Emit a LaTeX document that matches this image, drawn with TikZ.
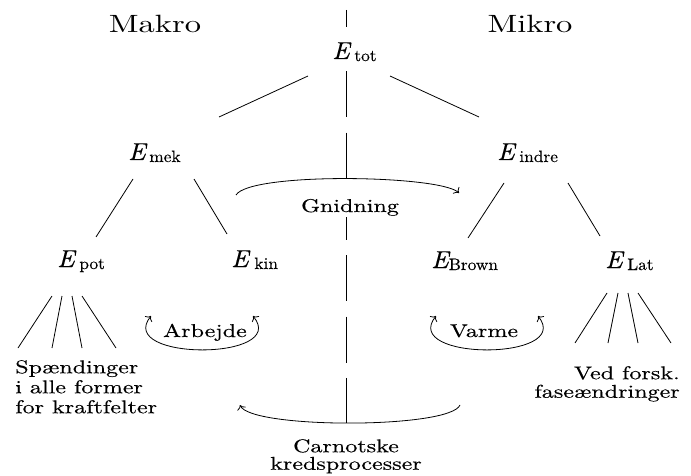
\documentclass[tikz,border=0pt]{standalone}
\usepackage{fontspec}
\setmainfont{lmroman10-regular.otf}[FakeBold=0.3]
\newfontface\Eit{lmroman10-italic.otf}[FakeBold=0.4]
\newfontface\hdrfont{lmroman10-regular.otf}
\usetikzlibrary{arrows.meta,calc}
\newcommand{\Eof}[2][4.5]{{\Eit E}\kern#1pt\raisebox{-2pt}{\fontsize{16.5}{18}\selectfont #2}}
\begin{document}
\begin{tikzpicture}[x=1pt,y=-1pt,
  wtxt/.style={inner sep=0pt, xscale=1.3, transform shape, font=\fontsize{18.5}{20}\selectfont},
  enode/.style={inner sep=0pt, xscale=1.05, transform shape, font=\fontsize{24.5}{28}\selectfont, anchor=base west},
  hdr/.style={inner sep=0pt, xscale=1.3, transform shape, font=\hdrfont\fontsize{25}{30}\selectfont, anchor=base},
  ln/.style={line width=0.8pt},
  arr/.style={ln, -{To[scale=1.3]}},
  dbl/.style={ln, {To[scale=1.3]}-{To[scale=1.3]}}
]
\useasboundingbox (0,0) rectangle (691,476);
\coordinate (dtop) at (346,10);
\coordinate (dbot) at (346,423);
\draw[ln, dash pattern=on 46pt off 15.3pt] (dtop) -- (dbot);

\node[hdr] (makro) at (155,33) {Makro};
\node[hdr] (mikro) at (530,33) {Mikro};

\node[enode, fill=white, text height=32pt, text depth=8pt, inner xsep=1pt] (tot) at (331,59) {\Eof{tot}};
\node[enode] (mek) at (128,160) {\Eof[3.5]{mek}};
\node[enode] (indre) at (497,160) {\Eof{indre}};
\node[enode] (pot) at (57,267) {\Eof{pot}};
\node[enode] (kin) at (231,267) {\Eof[5.5]{kin}};
\node[enode] (brown) at (431,268) {\Eof[0]{Brown}};
\node[enode] (lat) at (605,268) {\Eof{Lat}};

\node[wtxt, anchor=north west, align=left, font=\fontsize{18.5}{20}\selectfont] (spaend) at (15,360) {Spændinger\\i alle former\\for kraftfelter};
\node[wtxt, anchor=north east, align=right, font=\fontsize{18.5}{18.5}\selectfont] (ved) at (680,366) {Ved forsk.\\faseændringer};
\node[wtxt, anchor=north, align=center, font=\fontsize{18.5}{17.5}\selectfont] (carnot) at (346,439) {Carnotske\\kredsprocesser};
\node[wtxt, anchor=base, fill=white, inner xsep=3pt, inner ysep=1pt, text height=18pt] (gnid) at (350,212) {Gnidning};
\node[wtxt, anchor=base] (arb) at (205,337) {Arbejde};
\node[wtxt, anchor=base] (varme) at (484,337) {Varme};

% tree connectors
\draw[ln] ($(tot.base west)+(-23,17)$) -- ($(mek.base west)+(91,-43)$);
\draw[ln] ($(tot.base west)+(59,17)$) -- ($(indre.base west)+(-18,-43)$);
\draw[ln] ($(mek.base west)+(5,19)$) -- ($(pot.base west)+(39,-30)$);
\draw[ln] ($(mek.base west)+(66,19)$) -- ($(kin.base west)+(-4,-33)$);
\draw[ln] ($(indre.base west)+(7,23)$) -- ($(brown.base west)+(37,-30)$);
\draw[ln] ($(indre.base west)+(71,23)$) -- ($(lat.base west)+(-5,-32)$);

% fans
\foreach \a/\b in {-5/3, 5/37, 15/67, 25/101}
  \draw[ln] ($(pot.base west)+(\a,29)$) -- ($(spaend.north west)+(\b,-12)$);
\foreach \a/\b in {2/-105, 13/-72, 23/-42, 33/-9}
  \draw[ln] ($(lat.base west)+(\a,25)$) -- ($(ved.north east)+(\b,-23)$);

% curved arrows
\draw[arr] ($(kin.base west)+(5,-72)$) .. controls (250,172) and (440,175) .. ($(brown.base west)+(28,-75)$);
\draw[arr] ($(brown.base west)+(29,137)$) .. controls (450,429) and (250,429) .. ($(kin.base west)+(9,138)$);
\draw[dbl] ($(arb.base)+(-54,-21)$) .. controls (115,361) and (290,361) .. ($(arb.base)+(48,-21)$);
\draw[dbl] ($(varme.base)+(-48,-21)$) .. controls (400,361) and (574,361) .. ($(varme.base)+(54,-21)$);
\end{tikzpicture}
\end{document}
